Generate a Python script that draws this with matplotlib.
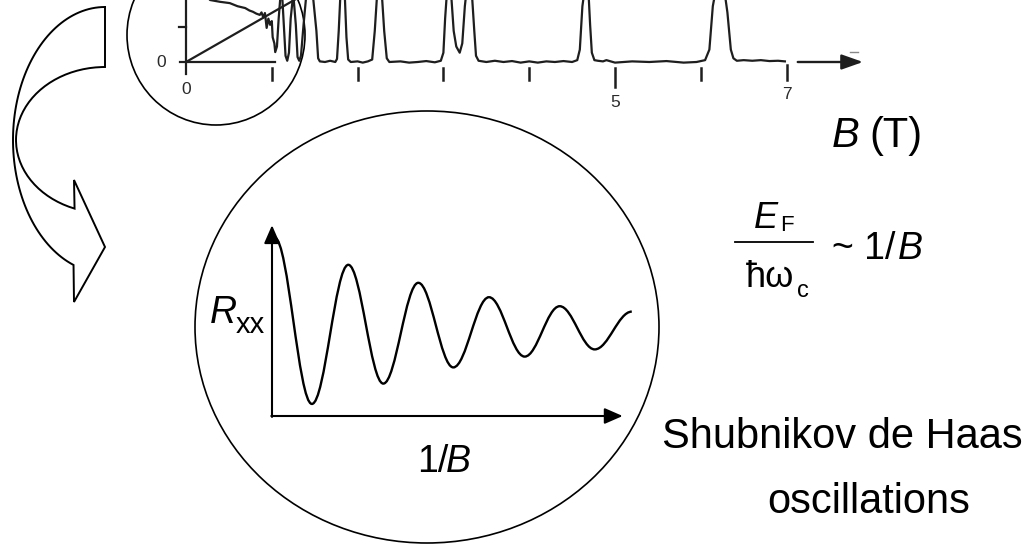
import numpy as np
import matplotlib
matplotlib.use("Agg")
import matplotlib.pyplot as plt
from matplotlib.patches import Ellipse, PathPatch
from matplotlib.path import Path

plt.rcParams['font.family'] = ['Liberation Sans', 'DejaVu Sans']

# ---- scanned trace (top): R_xx vs B in tesla, arbitrary R units (0 = baseline) ----
TRACE_B = [0.20, 0.28, 0.40, 0.51, 0.60, 0.69, 0.74, 0.78, 0.82, 0.86, 0.88, 0.90,
           0.92, 0.94, 0.96, 0.98, 1.00, 1.01, 1.03, 1.04, 1.06, 1.08, 1.10, 1.12,
           1.14, 1.16, 1.18, 1.20, 1.22, 1.25, 1.28, 1.30, 1.32, 1.34, 1.37, 1.40,
           1.47, 1.52, 1.54, 1.56, 1.62, 1.68, 1.74, 1.76, 1.78, 1.80, 1.82, 1.85,
           1.87, 1.89, 1.92, 2.00, 2.06, 2.12, 2.17, 2.20, 2.23, 2.28, 2.31, 2.34,
           2.37, 2.50, 2.60, 2.70, 2.80, 2.90, 2.97, 3.00, 3.02, 3.04, 3.09, 3.12,
           3.15, 3.19, 3.22, 3.25, 3.27, 3.33, 3.36, 3.38, 3.41, 3.50, 3.60, 3.70,
           3.80, 3.90, 4.00, 4.10, 4.20, 4.30, 4.40, 4.50, 4.56, 4.59, 4.62, 4.65,
           4.69, 4.71, 4.73, 4.76, 4.80, 4.86, 4.90, 5.00, 5.20, 5.40, 5.60, 5.80,
           5.95, 6.05, 6.10, 6.14, 6.18, 6.27, 6.31, 6.35, 6.38, 6.42, 6.50, 6.60,
           6.70, 6.80, 6.90, 6.98]
TRACE_R = [1.15, 1.00, 0.97, 0.95, 0.90, 0.87, 0.83, 0.81, 0.78, 0.76, 0.80, 0.72,
           0.79, 0.55, 0.70, 0.60, 0.66, 0.40, 0.30, 0.16, 0.25, 0.70, 1.05, 1.10,
           0.60, 0.10, 0.02, 0.15, 0.70, 1.10, 0.60, 0.08, 0.02, 0.10, 0.60, 1.05,
           1.20, 0.50, 0.06, 0.01, 0.00, 0.02, 0.00, 0.05, 0.50, 1.10, 1.20, 1.10,
           0.40, 0.04, 0.00, 0.01, -0.01, 0.01, 0.04, 0.50, 1.15, 1.15, 0.50, 0.06,
           0.00, 0.01, -0.01, 0.00, 0.015, -0.005, 0.02, 0.15, 0.70, 1.10, 1.10, 0.50,
           0.25, 0.15, 0.30, 0.90, 1.15, 1.15, 0.50, 0.10, 0.02, 0.00, 0.02, 0.00,
           0.015, -0.01, 0.01, -0.01, 0.01, 0.00, 0.015, 0.00, 0.03, 0.20, 0.90, 1.20,
           1.15, 0.60, 0.15, 0.03, 0.02, 0.01, 0.03, -0.01, 0.01, 0.00, 0.015, -0.01,
           0.00, 0.03, 0.20, 0.90, 1.20, 1.20, 0.80, 0.20, 0.06, 0.02, 0.03, 0.02,
           0.03, 0.015, 0.02, 0.01]
HALL_B = [0.0, 1.30]
HALL_R = [0.0, 1.03]
TICK_B = [1, 2, 3, 4, 5, 6, 7]
TICK_LABELS = ["", "", "", "", "5", "", "7"]

# ---- sketch (inner circle): extrema of R_xx vs 1/B, arbitrary units ----
OSC_U = [0.04, 0.57, 1.09, 1.59, 2.09, 2.59, 3.10, 3.61, 4.11, 4.61, 5.14]
OSC_R = [0.99, 0.067, 0.84, 0.18, 0.74, 0.27, 0.66, 0.33, 0.61, 0.37, 0.58]

W, H = 1034, 545
fig = plt.figure(figsize=(W / 100, H / 100), dpi=100)
ax = fig.add_axes([0, 0, 1, 1])
ax.set_xlim(0, W)
ax.set_ylim(H, 0)
ax.axis("off")


def px_axes(x0, x1, y0, y1):
    """axes covering a pixel box (y measured from the top)"""
    a = fig.add_axes([x0 / W, 1 - y1 / H, (x1 - x0) / W, (y1 - y0) / H])
    a.axis("off")
    return a


# ---- top: scanned B-sweep ----
BX0, BSC = 186.0, 85.8          # pixel x of B=0, pixels per tesla
ax_top = px_axes(BX0 - BSC, BX0 + 8.5 * BSC, 0, 124)
ax_top.set_xlim(-1, 8.5)
ax_top.set_ylim(-1, 1)
ink = "#1e1e1e"
lab_col = "#2a2a2a"
ax_top.plot(TRACE_B, TRACE_R, color=ink, lw=1.6, solid_joinstyle="round")
ax_top.plot(HALL_B, HALL_R, color=ink, lw=1.6)
ax_top.plot([-0.07, 1.04], [0, 0], color=ink, lw=1.6)
ax_top.plot([0, 0], [-0.2, 1.1], color=ink, lw=1.6)
ax_top.plot([-0.08, 0], [0.56, 0.56], color=ink, lw=1.6)
for b, lab in zip(TICK_B, TICK_LABELS):
    lo = -0.40 if b == 5 else -0.29
    hi = -0.05 if b == 7 else -0.10
    ax_top.plot([b, b], [hi, lo], color=ink, lw=1.8)
    if lab:
        ax_top.text(b, -0.53 if b == 5 else -0.40, lab, ha="center", va="top",
                    fontsize=12.5, color=lab_col)
ax_top.text(0, -0.33, "0", ha="center", va="top", fontsize=12.5, color=lab_col)
ax_top.text(-0.29, -0.01, "0", ha="center", va="center", fontsize=12.5, color=lab_col)
ax_top.annotate("", xy=(7.89, 0), xytext=(7.13, 0),
                arrowprops=dict(arrowstyle="-|>,head_length=0.65,head_width=0.23",
                                mutation_scale=20, lw=1.7, color=ink,
                                shrinkA=0, shrinkB=0))
ax_top.plot([7.74, 7.83], [0.16, 0.16], color="#888888", lw=1.0)

# magnifier circle on the low-field part
ax.add_patch(Ellipse((216, 35), 178, 180, fill=False, lw=1.2, ec="black"))

# ---- curved arrow on the left ----
t_out = np.radians(np.linspace(270, 110, 80))
t_in = np.radians(np.linspace(110, 270, 80))
xs = list(105 + 92 * np.cos(t_out)) + [74, 105, 74] + list(105 + 89 * np.cos(t_in)) + [105]
ys = list(140 + 133 * np.sin(t_out)) + [302, 247, 180] + list(140 + 73 * np.sin(t_in)) + [7]
ax.plot(xs, ys, color="black", lw=1.4, solid_joinstyle="miter")

# ---- inner circle: schematic SdH oscillation ----
ax.add_patch(Ellipse((427, 327), 464, 432, fill=False, lw=1.2, ec="black"))
UX0, USC = 272.0, 70.0
RY0, RSC = 416.0, 180.0
ax_in = px_axes(UX0 - USC, UX0 + 6 * USC, RY0 - 1.3 * RSC, RY0 + 0.3 * RSC)
ax_in.set_xlim(-1, 6)
ax_in.set_ylim(-0.3, 1.3)
k = 0.364
verts = [(OSC_U[0], OSC_R[0])]
codes = [Path.MOVETO]
for u0, r0, u1, r1 in zip(OSC_U[:-1], OSC_R[:-1], OSC_U[1:], OSC_R[1:]):
    du = u1 - u0
    verts += [(u0 + k * du, r0), (u1 - k * du, r1), (u1, r1)]
    codes += [Path.CURVE4] * 3
ax_in.add_patch(PathPatch(Path(verts, codes), fill=False, lw=1.7, ec="black"))
head = dict(arrowstyle="-|>,head_length=0.55,head_width=0.24", mutation_scale=20,
            lw=1.5, color="black", shrinkA=0, shrinkB=0)
ax_in.annotate("", xy=(5.01, 0), xytext=(-0.01, 0), arrowprops=head)
ax_in.annotate("", xy=(0, 1.06), xytext=(0, -0.005), arrowprops=head)

# ---- text ----
ax.text(210, 323, "R", style="italic", fontsize=27, va="baseline")
ax.text(236, 333, "xx", fontsize=21, va="baseline")
ax.text(417, 472, "1/", fontsize=27, va="baseline")
ax.text(446, 472, "B", style="italic", fontsize=27, va="baseline")

ax.text(832, 147, "B", style="italic", fontsize=30, va="baseline")
ax.text(869, 147, "(T)", fontsize=30, va="baseline")

ax.text(754, 228, "E", style="italic", fontsize=26, va="baseline")
ax.text(780, 231, "F", fontsize=16, va="baseline")
ax.plot([735, 813], [242, 242], color="black", lw=1.3)
ax.text(746, 287, "\u0127\u03c9", fontsize=26, va="baseline")
ax.text(797, 297, "c", fontsize=17, va="baseline")
ax.text(832, 259, "~ 1/", fontsize=27, va="baseline")
ax.text(898, 259, "B", style="italic", fontsize=27, va="baseline")

ax.text(662, 448, "Shubnikov de Haas", fontsize=30, va="baseline")
ax.text(767, 513, "oscillations", fontsize=30, va="baseline")

fig.savefig("out.png", dpi=100)
